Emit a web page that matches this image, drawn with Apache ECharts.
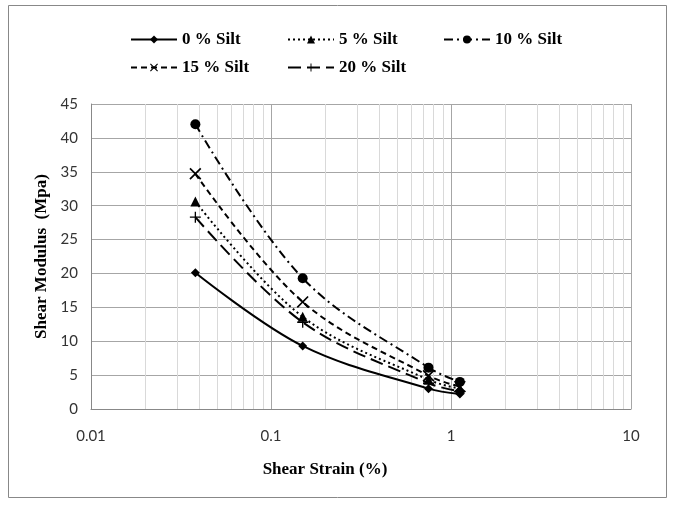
<!DOCTYPE html>
<html>
<head>
<meta charset="utf-8">
<script src="https://cdn.jsdelivr.net/npm/echarts@6/dist/echarts.min.js"></script>
<style>
html,body{margin:0;padding:0;background:#fff;}
#chart{width:674px;height:506px;}
</style>
</head>
<body>
<div id="chart"></div>
<script>
const strain = [0.038, 0.15, 0.75, 1.12];
const silt0 = [20.1, 9.3, 3.0, 2.2];
const silt5 = [30.6, 13.6, 4.3, 3.0];
const silt10 = [42.0, 19.3, 6.1, 4.0];
const silt15 = [34.7, 15.8, 4.9, 3.3];
const silt20 = [28.3, 12.8, 3.8, 2.6];
const seriesNames = ['0 % Silt', '5 % Silt', '10 % Silt', '15 % Silt', '20 % Silt'];
const minorX = [0.02,0.03,0.04,0.05,0.06,0.07,0.08,0.09,0.2,0.3,0.4,0.5,0.6,0.7,0.8,0.9,2,3,4,5,6,7,8,9];

const pairs = v => strain.map((x, i) => [x, v[i]]);
const xPath = 'path://M1,0L5,4L9,0L10,1L6,5L10,9L9,10L5,6L1,10L0,9L4,5L0,1Z';
const plusPath = 'path://M4.4,0H5.6V4.4H10V5.6H5.6V10H4.4V5.6H0V4.4H4.4Z';

const styles = [
  {symbol: 'diamond', size: 9, dash: 'solid'},
  {symbol: 'triangle', size: 10, dash: [2, 3]},
  {symbol: 'circle', size: 10, dash: [9, 4, 2, 4]},
  {symbol: xPath, size: 12, dash: [6, 4]},
  {symbol: plusPath, size: 11, dash: [13, 6]}
];
const dataSets = [silt0, silt5, silt10, silt15, silt20];

const series = dataSets.map((d, i) => ({
  name: seriesNames[i],
  type: 'line',
  data: pairs(d),
  smooth: 0.35,
  symbol: styles[i].symbol,
  symbolSize: styles[i].size,
  showSymbol: true,
  itemStyle: {color: '#000'},
  lineStyle: {color: '#000', width: 2, type: styles[i].dash},
  z: 5
}));
series.push({
  type: 'line',
  data: [],
  silent: true,
  markLine: {
    silent: true,
    symbol: 'none',
    label: {show: false},
    lineStyle: {color: '#d9d9d9', width: 1, type: 'solid'},
    data: minorX.map(x => ({xAxis: x}))
  },
  z: 1
});

const legendPos = [[125, 26], [282, 26], [438, 26], [125, 54], [282, 54]];
const legends = seriesNames.map((n, i) => ({
  data: [n],
  left: legendPos[i][0],
  top: legendPos[i][1],
  itemWidth: 46,
  itemHeight: 10,
  itemGap: 0,
  textStyle: {fontFamily: 'Liberation Serif', fontWeight: 'bold', fontSize: 17, color: '#000', padding: [0, 0, 0, 0]}
}));

const chart = echarts.init(document.getElementById('chart'));
chart.setOption({
  backgroundColor: '#fff',
  animation: false,
  legend: legends,
  grid: {left: 91, right: 43, top: 104, bottom: 97, containLabel: false},
  xAxis: {
    type: 'log',
    logBase: 10,
    min: 0.01,
    max: 10,
    name: 'Shear Strain (%)',
    nameLocation: 'middle',
    nameGap: 52,
    nameTextStyle: {fontFamily: 'Liberation Serif', fontWeight: 'bold', fontSize: 17, color: '#000', padding: [0, 72, 0, 0]},
    axisLine: {lineStyle: {color: '#888', width: 1}},
    axisTick: {show: false},
    axisLabel: {fontFamily: 'Lato', fontSize: 15, color: '#333', margin: 20},
    splitLine: {show: true, lineStyle: {color: '#a6a6a6', width: 1}}
  },
  yAxis: {
    type: 'value',
    min: 0,
    max: 45,
    interval: 5,
    name: 'Shear Modulus  (Mpa)',
    nameLocation: 'middle',
    nameGap: 37,
    nameTextStyle: {fontFamily: 'Liberation Serif', fontWeight: 'bold', fontSize: 17, color: '#000'},
    axisLine: {show: true, lineStyle: {color: '#888', width: 1}},
    axisTick: {show: false},
    axisLabel: {fontFamily: 'Lato', fontSize: 15, color: '#333', margin: 13},
    splitLine: {show: true, lineStyle: {color: '#a6a6a6', width: 1}}
  },
  graphic: [{
    type: 'rect',
    shape: {x: 8.5, y: 5.5, width: 658, height: 492},
    style: {fill: 'none', stroke: '#888', lineWidth: 1},
    silent: true
  }],
  series: series
});
</script>
</body>
</html>
